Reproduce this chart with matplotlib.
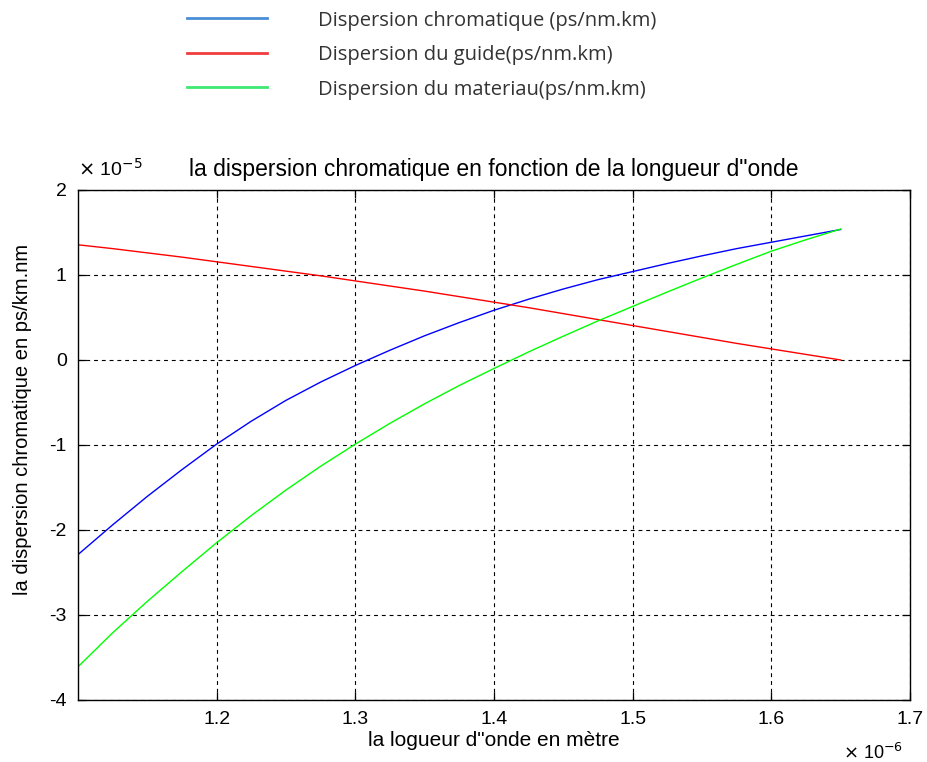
import matplotlib
matplotlib.use('Agg')
import matplotlib.pyplot as plt
from matplotlib.lines import Line2D

# longueur d'onde (x 1e-6 m) et dispersions (x 1e-5)
lam = [1.100, 1.125, 1.150, 1.175, 1.200, 1.225, 1.250, 1.275, 1.300, 1.325, 1.350, 1.375,
       1.400, 1.425, 1.450, 1.475, 1.500, 1.525, 1.550, 1.575, 1.600, 1.625, 1.650]
d_chrom = [-2.29, -1.94, -1.605, -1.29, -0.99, -0.72, -0.475, -0.26, -0.065, 0.115, 0.285, 0.44,
           0.585, 0.715, 0.835, 0.945, 1.04, 1.135, 1.225, 1.31, 1.385, 1.46, 1.535]
d_guide = [1.355, 1.31, 1.26, 1.21, 1.155, 1.10, 1.045, 0.99, 0.93, 0.87, 0.81, 0.745,
           0.68, 0.615, 0.545, 0.475, 0.405, 0.335, 0.265, 0.195, 0.13, 0.065, 0.00]
d_mat = [-3.61, -3.21, -2.84, -2.49, -2.15, -1.83, -1.53, -1.25, -0.99, -0.745, -0.515, -0.30,
         -0.10, 0.095, 0.28, 0.46, 0.63, 0.80, 0.965, 1.125, 1.28, 1.415, 1.54]

legend_labels = ['Dispersion chromatique (ps/nm.km)', 'Dispersion du guide(ps/nm.km)',
                 'Dispersion du materiau(ps/nm.km)']
legend_colors = ['#4a8ed6', '#f03c3c', '#3ee873']

xticks = [1.2, 1.3, 1.4, 1.5, 1.6, 1.7]
yticks = [-4, -3, -2, -1, 0, 1, 2]

fig = plt.figure(figsize=(9.27, 7.62), dpi=100)
ax = fig.add_axes([0.0841, 0.0814, 0.8976, 0.6693])

ax.plot(lam, d_chrom, color='#0000ff', lw=1.0)
ax.plot(lam, d_guide, color='#ff0000', lw=1.0)
ax.plot(lam, d_mat, color='#00ff00', lw=1.0)

ax.set_xlim(1.1, 1.7)
ax.set_ylim(-4, 2)
ax.set_xticks(xticks)
ax.set_xticklabels([f'{v:g}' for v in xticks])
ax.set_yticks(yticks)
ax.set_yticklabels([f'{v:g}' for v in yticks])
ax.grid(True, color='black', linestyle=(0, (3.5, 3.5)), lw=0.8)
ax.tick_params(direction='in', top=True, right=True, length=6, width=0.9,
               labelsize=14, pad=8)
for lab in ax.get_xticklabels() + ax.get_yticklabels():
    lab.set_family('Liberation Sans')
for sp in ax.spines.values():
    sp.set_linewidth(1.0)
    sp.set_color('black')

ax.set_title('la dispersion chromatique en fonction de la longueur d"onde',
             fontsize=16.5, family='Liberation Sans', pad=10)
ax.set_xlabel('la logueur d"onde en mètre', fontsize=15, family='Liberation Sans', labelpad=2)
ax.set_ylabel('la dispersion chromatique en ps/km.nm', fontsize=14.5,
              family='Liberation Sans')
ax.yaxis.set_label_coords(-0.055, 0.55)

# facteurs d'echelle facon MATLAB
ax.text(0.0, 1.02, r'$\times$ 10$^{-5}$', transform=ax.transAxes, fontsize=14,
        family='Liberation Sans', ha='left', va='bottom')
ax.text(0.92, -0.085, r'$\times$ 10$^{-6}$', transform=ax.transAxes, fontsize=13,
        family='Liberation Sans', ha='left', va='top')

handles = [Line2D([], [], color=c, lw=2) for c in legend_colors]
fig.legend(handles, legend_labels, loc='upper left', bbox_to_anchor=(0.182, 1.01),
           frameon=False, handlelength=4.0, handletextpad=2.5, labelspacing=0.72,
           prop={'family': 'Open Sans', 'size': 14.5}, labelcolor='#333333')

fig.savefig('out.png', dpi=100)
